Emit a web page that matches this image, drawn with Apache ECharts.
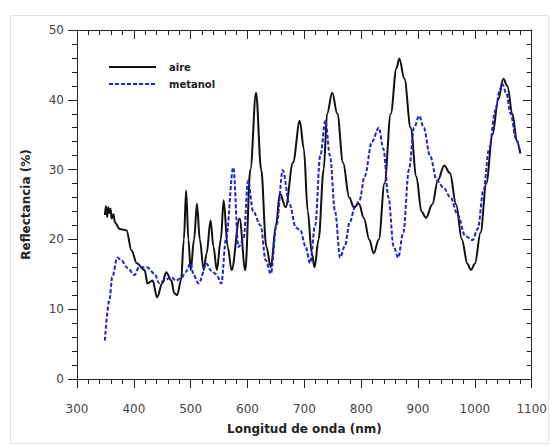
<!DOCTYPE html>
<html>
<head>
<meta charset="utf-8">
<script src="https://cdn.jsdelivr.net/npm/echarts@6/dist/echarts.min.js"></script>
<style>
html,body{margin:0;padding:0;background:#fff;}
#wrap{position:relative;width:550px;height:446px;}
#frame{position:absolute;left:10px;top:15px;width:537px;height:427px;border:1px solid #e4e4e4;pointer-events:none;}
#c{position:absolute;left:0;top:0;width:550px;height:446px;}
</style>
</head>
<body>
<div id="wrap"><div id="frame"></div><div id="c"></div></div>
<script>
var xTicks = [300, 400, 500, 600, 700, 800, 900, 1000, 1100];
var yTicks = [0, 10, 20, 30, 40, 50];

var wlAire = [349,351,353,355,357,359,361,364,367,375,387,396,405,419,424,433,441,450,457,466,471,476,483,488,492,496,500,506,511,516,523,528,535,540,546,553,558,565,572,586,596,605,615,624,633,641,650,657,667,680,692,699,706,713,718,725,734,740,749,758,768,779,787,796,805,814,822,831,841,852,862,867,876,887,897,906,914,925,935,946,956,967,977,987,993,1000,1010,1020,1031,1041,1050,1057,1066,1074,1080];
var rAire = [23.5,24.8,23.2,24.6,23.8,24.4,23,23.6,22.4,21.5,21.3,18.4,16.6,15.6,13.7,14.1,11.7,13.7,15.3,14.1,12.3,12,14.1,20,27,20,15.6,20,25.1,20,15.6,18,22.7,19,15.6,20,25.6,19,15.6,23,15.6,30,41,30,19,16,22,26.6,24.6,31,37,33,24,18,16,20,30,38,41,38,31,26,24.6,25.1,23,20,18,20,28,38,44.5,45.9,43,36,29,24,23.1,25,28.5,30.6,29.5,25,20,16.5,15.6,16.5,21,28,35,40,43,42,38,34,32.3];

var wlMetanol = [349,357,362,371,378,389,401,409,423,436,445,453,466,474,483,491,500,505,514,528,536,545,554,562,575,584,593,601,610,623,632,641,651,662,674,685,693,702,710,719,728,737,745,754,763,771,780,789,797,806,819,831,839,848,857,865,874,884,893,902,910,921,933,945,957,970,983,996,1005,1015,1025,1036,1044,1048,1055,1063,1072,1079];
var rMetanol = [5.5,11.3,14.6,17.4,17,15.9,14.9,16,16,15.1,13.7,14.1,14.6,14.1,14.4,15.3,16.6,14.9,13.7,16.5,15.5,15,13.7,20,30.3,18.9,20,28.4,24,22,17,15.1,22,29.9,25,21.7,21.3,19,16.6,22,32,37,32,24,17.4,19,22.5,24.6,25.6,29,34,36,33,26,19,17.4,21,30,36,37.7,36,32,28.5,27.4,26,23.5,20.5,19.9,21.5,27,33,38.5,41.5,42.3,41,38,34.5,32.7];

function pairs(xs, ys) { return xs.map(function (x, i) { return [x, ys[i]]; }); }

var axisColor = '#222';
var font = 'DejaVu Sans';
function tick(inside) {
  return {show: true, inside: inside, length: 9, lineStyle: {color: axisColor, width: 1, type: 'solid'}};
}
function minor() {
  return {show: true, splitNumber: 5, length: 5, lineStyle: {color: axisColor, width: 1, type: 'solid'}};
}
var chart = echarts.init(document.getElementById('c'), null, {renderer: 'svg'});
chart.setOption({
  animation: false,
  grid: {left: 77, right: 13, top: 30, bottom: 67},
  legend: {
    orient: 'vertical', left: 103, top: 57, itemWidth: 47, itemHeight: 10, itemGap: 7,
    itemStyle: {opacity: 0},
    textStyle: {fontFamily: font, fontSize: 10, fontWeight: 'bold', color: '#222', padding: [0, 0, 0, 8]},
    data: ['aire', 'metanol']
  },
  xAxis: [{
    type: 'value', min: xTicks[0], max: xTicks[xTicks.length - 1], interval: 100,
    name: 'Longitud de onda (nm)', nameLocation: 'middle', nameGap: 44,
    nameTextStyle: {fontFamily: font, fontSize: 12, fontWeight: 'bold', color: '#222'},
    axisLine: {show: true, onZero: false, lineStyle: {color: axisColor, width: 1}},
    axisTick: tick(false),
    minorTick: minor(),
    axisLabel: {fontFamily: font, fontSize: 12, color: '#444', margin: 24, formatter: function (v) { return String(v); }},
    splitLine: {show: false}
  }, {
    type: 'value', position: 'top', min: xTicks[0], max: xTicks[xTicks.length - 1], interval: 100,
    axisLine: {show: true, onZero: false, lineStyle: {color: axisColor, width: 1}},
    axisTick: tick(true),
    minorTick: minor(),
    axisLabel: {show: false}, splitLine: {show: false}
  }],
  yAxis: [{
    type: 'value', min: yTicks[0], max: yTicks[yTicks.length - 1], interval: 10,
    name: 'Reflectancia (%)', nameLocation: 'middle', nameGap: 45,
    nameTextStyle: {fontFamily: font, fontSize: 12, fontWeight: 'bold', color: '#222'},
    axisLine: {show: true, onZero: false, lineStyle: {color: axisColor, width: 1}},
    axisTick: tick(false),
    minorTick: minor(),
    axisLabel: {fontFamily: font, fontSize: 12, color: '#444', margin: 13},
    splitLine: {show: false}
  }, {
    type: 'value', position: 'right', min: yTicks[0], max: yTicks[yTicks.length - 1], interval: 10,
    axisLine: {show: true, onZero: false, lineStyle: {color: axisColor, width: 1}},
    axisTick: tick(true),
    minorTick: minor(),
    axisLabel: {show: false}, splitLine: {show: false}
  }],
  series: [{
    name: 'aire', type: 'line', data: pairs(wlAire, rAire), showSymbol: false, symbol: 'none',
    smooth: 0.35, smoothMonotone: 'x',
    lineStyle: {color: '#111', width: 2}, itemStyle: {color: '#111'}
  }, {
    name: 'metanol', type: 'line', data: pairs(wlMetanol, rMetanol), showSymbol: false, symbol: 'none',
    smooth: 0.35, smoothMonotone: 'x',
    lineStyle: {color: '#2222cc', width: 2, type: [4, 2]}, itemStyle: {color: '#2222cc'}
  }]
});
</script>
</body>
</html>
